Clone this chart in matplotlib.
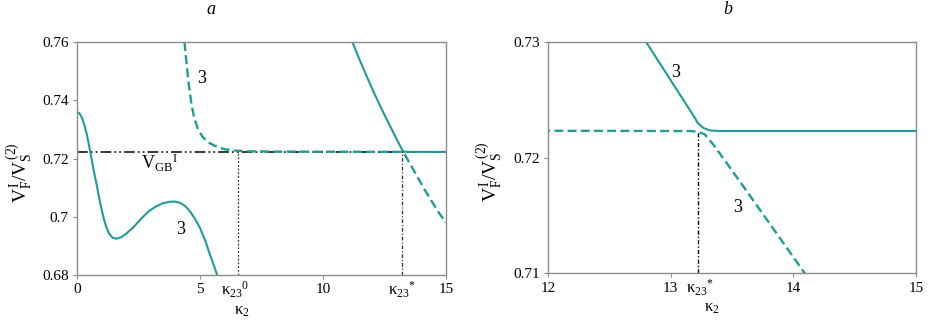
import matplotlib.pyplot as plt
from matplotlib.transforms import blended_transform_factory

plt.rcParams['font.family'] = ['Liberation Serif', 'DejaVu Serif']
plt.rcParams['mathtext.fontset'] = 'custom'
plt.rcParams['mathtext.rm'] = 'Liberation Serif'
plt.rcParams['mathtext.it'] = 'Liberation Serif:italic'

teal = '#1f9d95'
spine_col = '#8c8c8c'

# low solid branch (panel a)
k_low = [0.0, 0.1, 0.2, 0.3, 0.4, 0.5, 0.6, 0.7, 0.8, 0.9, 1.0, 1.1, 1.2, 1.3,
         1.45, 1.6, 1.8, 2.0, 2.3, 2.6, 2.9, 3.2, 3.5, 3.8, 4.0, 4.2, 4.4,
         4.6, 4.8, 5.0, 5.2, 5.4, 5.6, 5.7]
v_low = [0.7360, 0.7355, 0.7340, 0.7315, 0.7282, 0.7240, 0.7195, 0.7150,
         0.7110, 0.7065, 0.7025, 0.6990, 0.6963, 0.6943, 0.6928, 0.6925,
         0.6930, 0.6942, 0.6965, 0.6993, 0.7018, 0.7035, 0.7047, 0.7052,
         0.7052, 0.7048, 0.7037, 0.7018, 0.6993, 0.6962, 0.6922, 0.6872,
         0.6825, 0.6800]

# dashed branch
k_dash = [4.37, 4.45, 4.55, 4.65, 4.75, 4.9, 5.1, 5.35, 5.7, 6.0, 6.5, 7.0,
          8.0, 13.15, 13.22, 13.28, 13.35, 13.5, 13.7, 13.9, 14.1, 14.4,
          14.7, 15.0]
v_dash = [0.7600, 0.7530, 0.7450, 0.7390, 0.7345, 0.7305, 0.7275, 0.7255,
          0.7240, 0.7232, 0.7227, 0.7225, 0.7224, 0.7223, 0.72225, 0.7220,
          0.7211, 0.7189, 0.7159, 0.7129, 0.7099, 0.7057, 0.7017, 0.6980]

# upper solid branch
k_up = [11.0, 11.2, 11.5, 11.8, 12.1, 12.4, 12.7, 12.8, 13.0, 13.1, 13.2,
        13.22, 13.27, 13.32, 13.4, 15.0]
v_up = [0.7642, 0.7600, 0.7538, 0.7479, 0.7422, 0.7368, 0.7317, 0.7300,
        0.7267, 0.72505, 0.7234, 0.7230, 0.72255, 0.72235, 0.7223, 0.7223]

v_gb = 0.7223
k23_0 = 6.54
k23_star = 13.22

fig = plt.figure(figsize=(9.36, 3.21), dpi=100)
ax1 = fig.add_axes([0.0823, 0.143, 0.394, 0.726])
ax2 = fig.add_axes([0.5855, 0.149, 0.393, 0.72])

for ax in (ax1, ax2):
    ax.plot(k_low, v_low, color=teal, lw=1.5)
    ax.plot(k_up, v_up, color=teal, lw=1.5)
    ax.plot(k_dash, v_dash, color=teal, lw=1.7, dashes=(3.8, 1.8))
    for s in ax.spines.values():
        s.set_color(spine_col)
        s.set_linewidth(1.0)
    ax.tick_params(direction='out', length=3, color=spine_col, labelsize=11,
                   pad=3)

ylab = r'$\mathregular{V_F^{\,I}/V_S^{\,(2)}}$'

# panel a
ax1.plot([0, 15], [v_gb, v_gb], color='black', lw=1.1,
         dashes=(7, 2, 1.2, 2, 1.2, 2), zorder=1)
ax1.plot([k23_0, k23_0], [0.68, v_gb], color='#333333', lw=0.9,
         dashes=(1.5, 1.5), zorder=1)
ax1.plot([k23_star, k23_star], [0.68, v_gb], color='#333333', lw=0.9,
         dashes=(3, 1.5, 1, 1.5), zorder=1)
ax1.set_xlim(0, 15)
ax1.set_ylim(0.68, 0.76)
ax1.set_xticks([0, 5, 10, 15])
ax1.set_yticks([0.68, 0.70, 0.72, 0.74, 0.76])
ax1.set_yticklabels(['0.68', '0.7', '0.72', '0.74', '0.76'])
ax1.text(5.05, 0.7475, '3', fontsize=13, ha='center', va='center')
ax1.text(4.2, 0.6957, '3', fontsize=13, ha='center', va='center')
ax1.text(3.35, 0.7185, r'$\mathregular{V_{GB}{}^{I}}$', fontsize=13,
         ha='center', va='center')
tr1 = blended_transform_factory(ax1.transData, ax1.transAxes)
ax1.text(k23_0 - 0.1, -0.02, r'κ$_{23}$$^{0}$', transform=tr1, fontsize=12,
         ha='center', va='top')
ax1.text(k23_star, -0.02, r'κ$_{23}$$^{*}$', transform=tr1, fontsize=12,
         ha='center', va='top')
ax1.set_xlabel(r'κ$_2$', fontsize=12)
ax1.xaxis.set_label_coords(0.446, -0.12)
ax1.set_ylabel(ylab, fontsize=14)
ax1.yaxis.set_label_coords(-0.118, 0.44)

# panel b
ax2.plot([k23_star, k23_star], [0.71, v_gb], color='black', lw=1.0,
         dashes=(3, 1.5, 1, 1.5), zorder=1)
ax2.set_xlim(12, 15)
ax2.set_ylim(0.71, 0.73)
ax2.set_xticks([12, 13, 14, 15])
ax2.set_yticks([0.71, 0.72, 0.73])
ax2.set_yticklabels(['0.71', '0.72', '0.73'])
ax2.text(13.04, 0.7274, '3', fontsize=13, ha='center', va='center')
ax2.text(13.55, 0.7157, '3', fontsize=13, ha='center', va='center')
tr2 = blended_transform_factory(ax2.transData, ax2.transAxes)
ax2.text(k23_star + 0.02, -0.02, r'κ$_{23}$$^{*}$', transform=tr2,
         fontsize=12, ha='center', va='top')
ax2.set_xlabel(r'κ$_2$', fontsize=12)
ax2.xaxis.set_label_coords(0.444, -0.115)
ax2.set_ylabel(ylab, fontsize=14)
ax2.yaxis.set_label_coords(-0.12, 0.44)

fig.text(211 / 936, 1 - 10 / 321, 'a', fontsize=13, style='italic',
         ha='center', va='center')
fig.text(728 / 936, 1 - 9 / 321, 'b', fontsize=13, style='italic',
         ha='center', va='center')

fig.savefig('out.png', dpi=100)
